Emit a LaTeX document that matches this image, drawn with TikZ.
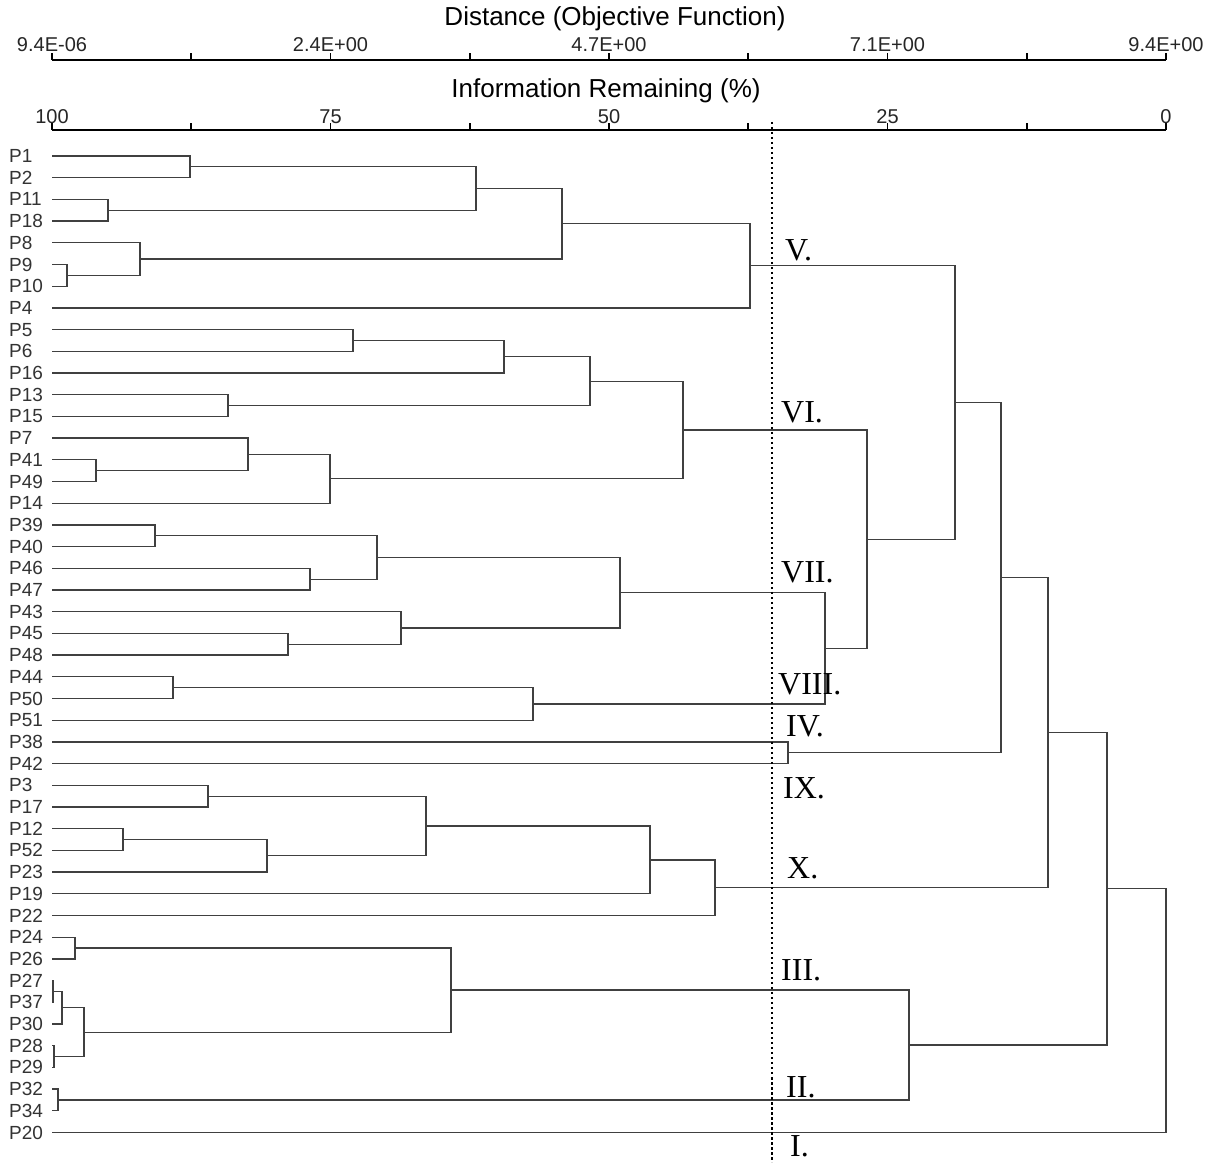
\documentclass[tikz,border=0pt]{standalone}
\usepackage{fontspec}
\setmainfont{Liberation Sans}
\newfontfamily\romanfont{Liberation Serif}
\usetikzlibrary{calc}
\tikzset{
  br/.style={draw=black!75, line width=1.25pt},
  leaflab/.style={anchor=west, inner sep=0pt, text=black!80, font=\fontsize{19}{22}\selectfont},
  ticklab/.style={inner sep=0pt, text=black!85, font=\fontsize{20}{23}\selectfont},
  axtitle/.style={inner sep=0pt, font=\fontsize{26}{30}\selectfont},
  axisline/.style={draw=black, line width=2.3pt},
  clab/.style={anchor=west, inner sep=0pt, font=\romanfont\fontsize{32}{36}\selectfont},
  cutline/.style={draw=black, line width=2.8pt, dash pattern=on 2.5pt off 2.5pt}
}
\newcommand\dmerge[4]{%
  \path let \p1=(#3), \p2=(#4) in (#2,{0.5*(\y1+\y2)}) coordinate (#1);
  \draw[br] (#3) -- (#3 -| #1) -- (#4 -| #1) -- (#4);
}
\begin{document}
\begin{tikzpicture}[x=1pt,y=1pt]
\useasboundingbox (0,0) rectangle (1215,1162);
\fill[white] (0,0) rectangle (1215,1162);
% axes
\node[axtitle] (dtitle) at (615,1143) {Distance (Objective Function)};
\node[axtitle] (ititle) at (606,1071) {Information Remaining (\%)};
\coordinate (ax1L) at (52,1102); \coordinate (ax1R) at (1166,1102);
\coordinate (ax2L) at (52,1032); \coordinate (ax2R) at (1166,1032);
\draw[axisline] (ax1L) -- (ax1R);
\draw[axisline] (ax2L) -- (ax2R);
\foreach \k in {0,...,8}{
  \draw[line width=1.6pt] ({52+139.25*\k},1102) -- ({52+139.25*\k},1109);
  \draw[line width=1.6pt] ({52+139.25*\k},1032) -- ({52+139.25*\k},1039);
}
\foreach \lab [count=\k from 0] in {9.4E-06,2.4E+00,4.7E+00,7.1E+00,9.4E+00}{
  \node[ticklab] (dt\k) at ({52+278.5*\k},1117) {\lab};
}
\foreach \lab [count=\k from 0] in {100,75,50,25,0}{
  \node[ticklab] (it\k) at ({52+278.5*\k},1045) {\lab};
}
% leaves
\foreach \nm [count=\i from 0] in {P1,P2,P11,P18,P8,P9,P10,P4,P5,P6,P16,P13,P15,P7,P41,P49,P14,P39,P40,P46,P47,P43,P45,P48,P44,P50,P51,P38,P42,P3,P17,P12,P52,P23,P19,P22,P24,P26,P27,P37,P30,P28,P29,P32,P34,P20}{
  \node[leaflab] (n\nm) at (9,{1006-21.7*\i}) {\nm};
  \coordinate (\nm) at (52,{1006-21.7*\i});
}
% tree
\dmerge{a1}{190}{P1}{P2}
\dmerge{a2}{108}{P11}{P18}
\dmerge{a3}{476}{a1}{a2}
\dmerge{a4}{67}{P9}{P10}
\dmerge{a5}{140}{P8}{a4}
\dmerge{a6}{562}{a3}{a5}
\dmerge{cV}{750}{a6}{P4}
\dmerge{b1}{353}{P5}{P6}
\dmerge{b2}{504}{b1}{P16}
\dmerge{b3}{228}{P13}{P15}
\dmerge{b4}{590}{b2}{b3}
\dmerge{b5}{96}{P41}{P49}
\dmerge{b6}{248}{P7}{b5}
\dmerge{b7}{330}{b6}{P14}
\dmerge{cVI}{683}{b4}{b7}
\dmerge{c1}{155}{P39}{P40}
\dmerge{c2}{310}{P46}{P47}
\dmerge{c3}{377}{c1}{c2}
\dmerge{c4}{288}{P45}{P48}
\dmerge{c5}{401}{P43}{c4}
\dmerge{cVII}{620}{c3}{c5}
\dmerge{d1}{173}{P44}{P50}
\dmerge{cVIII}{533}{d1}{P51}
\dmerge{e1}{825}{cVII}{cVIII}
\dmerge{e2}{867}{cVI}{e1}
\dmerge{e3}{955}{cV}{e2}
\dmerge{cIV}{788}{P38}{P42}
\dmerge{e4}{1001}{e3}{cIV}
\dmerge{f1}{208}{P3}{P17}
\dmerge{f2}{123}{P12}{P52}
\dmerge{f3}{267}{f2}{P23}
\dmerge{f4}{426}{f1}{f3}
\dmerge{cIX}{650}{f4}{P19}
\dmerge{cX}{715}{cIX}{P22}
\dmerge{e5}{1048}{e4}{cX}
\dmerge{h1}{75}{P24}{P26}
\dmerge{h2}{53}{P27}{P37}
\dmerge{h3}{62}{h2}{P30}
\dmerge{h4}{54}{P28}{P29}
\dmerge{h5}{84}{h3}{h4}
\dmerge{cIII}{451}{h1}{h5}
\dmerge{cII}{58}{P32}{P34}
\dmerge{h7}{909}{cIII}{cII}
\dmerge{e6}{1107}{e5}{h7}
\dmerge{root}{1166}{e6}{P20}
% cut line
\coordinate (cutT) at (772,1040);
\coordinate (cutB) at (772,0);
\draw[cutline] (cutT) -- (cutB);
% cluster labels
\node[clab] (lV)    at (785,{1162-250}) {V.};
\node[clab] (lVI)   at (781,{1162-412}) {VI.};
\node[clab] (lVII)  at (781,{1162-572}) {VII.};
\node[clab] (lVIII) at (778,{1162-684}) {VIII.};
\node[clab] (lIV)   at (786,{1162-726}) {IV.};
\node[clab] (lIX)   at (783,{1162-788}) {IX.};
\node[clab] (lX)    at (787,{1162-868}) {X.};
\node[clab] (lIII)  at (781,{1162-970}) {III.};
\node[clab] (lII)   at (786,{1162-1087}) {II.};
\node[clab] (lI)    at (790,{1162-1146}) {I.};
\end{tikzpicture}
\end{document}
